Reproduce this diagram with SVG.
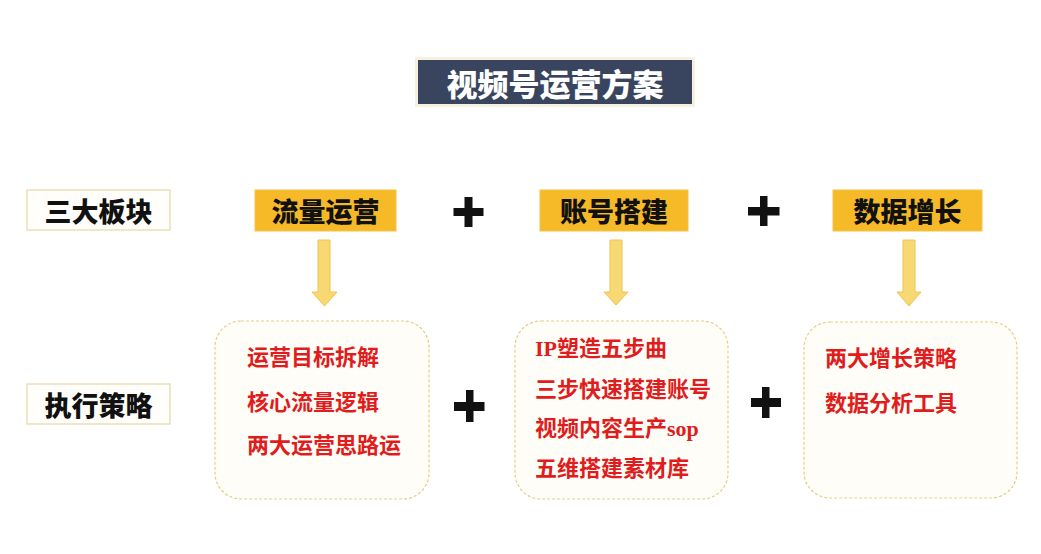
<svg xmlns="http://www.w3.org/2000/svg" width="1041" height="554" viewBox="0 0 1041 554">
<defs>
<style>
.hd{font-family:"Noto Sans CJK SC","Noto Sans",sans-serif;font-weight:900;font-size:27px;fill:#111;text-anchor:middle;dominant-baseline:central}
.lbl{fill:#fffefa;stroke:#eadfb8;stroke-width:1.5}
.gold{fill:#f6b927;stroke:#f3c44a;stroke-width:1}
.box{fill:#fffdf7;stroke:#e3cf86;stroke-width:1.2;stroke-dasharray:3 2}
.item{font-family:"Liberation Serif","Noto Sans CJK SC",serif;font-weight:bold;font-size:22px;fill:#e01c1c}
.arrow{fill:#f8d873;stroke:#eec44f;stroke-width:1}
.plus{fill:#111}
</style>
</defs>
<rect width="1041" height="554" fill="#ffffff"/>
<g id="title">
<rect x="415" y="57" width="280" height="50" fill="#f6f0de"/>
<rect x="418" y="60" width="274" height="44" fill="#39455e"/>
<text x="555" y="82" class="hd" style="fill:#ffffff;font-size:31px">视频号运营方案</text>
</g>
<g id="label-sandakuai">
<rect x="27" y="190" width="143" height="40" class="lbl"/>
<text x="98.5" y="210" class="hd">三大板块</text>
</g>
<g id="label-zhixing">
<rect x="27" y="384" width="143" height="40" class="lbl"/>
<text x="98.5" y="404" class="hd">执行策略</text>
</g>
<g id="block-liuliang">
<rect x="255" y="190" width="141" height="41" class="gold"/>
<text x="325.5" y="210.5" class="hd">流量运营</text>
</g>
<g id="block-zhanghao">
<rect x="540" y="190" width="148" height="41" class="gold"/>
<text x="614" y="210.5" class="hd">账号搭建</text>
</g>
<g id="block-shuju">
<rect x="833" y="190" width="149" height="41" class="gold"/>
<text x="907.5" y="210.5" class="hd">数据增长</text>
</g>
<g id="box-liuliang">
<rect x="215" y="321" width="214" height="178" rx="26" class="box"/>
<text x="247" y="365" class="item">运营目标拆解</text>
<text x="247" y="410" class="item">核心流量逻辑</text>
<text x="247" y="453" class="item">两大运营思路运</text>
</g>
<g id="box-zhanghao">
<rect x="515" y="321" width="213" height="178" rx="26" class="box"/>
<text x="535" y="356" class="item">IP塑造五步曲</text>
<text x="535" y="397" class="item">三步快速搭建账号</text>
<text x="535" y="436" class="item">视频内容生产sop</text>
<text x="535" y="476" class="item">五维搭建素材库</text>
</g>
<g id="box-shuju">
<rect x="804" y="322" width="213" height="176" rx="26" class="box"/>
<text x="825" y="366" class="item">两大增长策略</text>
<text x="825" y="411" class="item">数据分析工具</text>
</g>
<g id="connectors">
<path class="arrow" d="M318,240 H330 V292 H337 L324.5,306 L312,292 H318 Z"/>
<path class="arrow" d="M610,240 H622 V292 H628 L616,305 L604,292 H610 Z"/>
<path class="arrow" d="M903,240 H915 V292 H921 L909,306 L897,292 H903 Z"/>
<path class="plus" d="M464.5,197 h8 v11 h11 v8 h-11 v11 h-8 v-11 h-11 v-8 h11 Z"/>
<path class="plus" d="M760,196 h7.5 v11 h12 v8.5 h-12 v10.5 h-7.5 v-10.5 h-12 v-8.5 h12 Z"/>
<path class="plus" d="M466,390 h7.5 v12 h11 v9 h-11 v11 h-7.5 v-11 h-12 v-9 h12 Z"/>
<path class="plus" d="M762,387 h7.5 v11 h11.5 v9 h-11.5 v11 h-7.5 v-11 h-11 v-9 h11 Z"/>
</g>
</svg>
